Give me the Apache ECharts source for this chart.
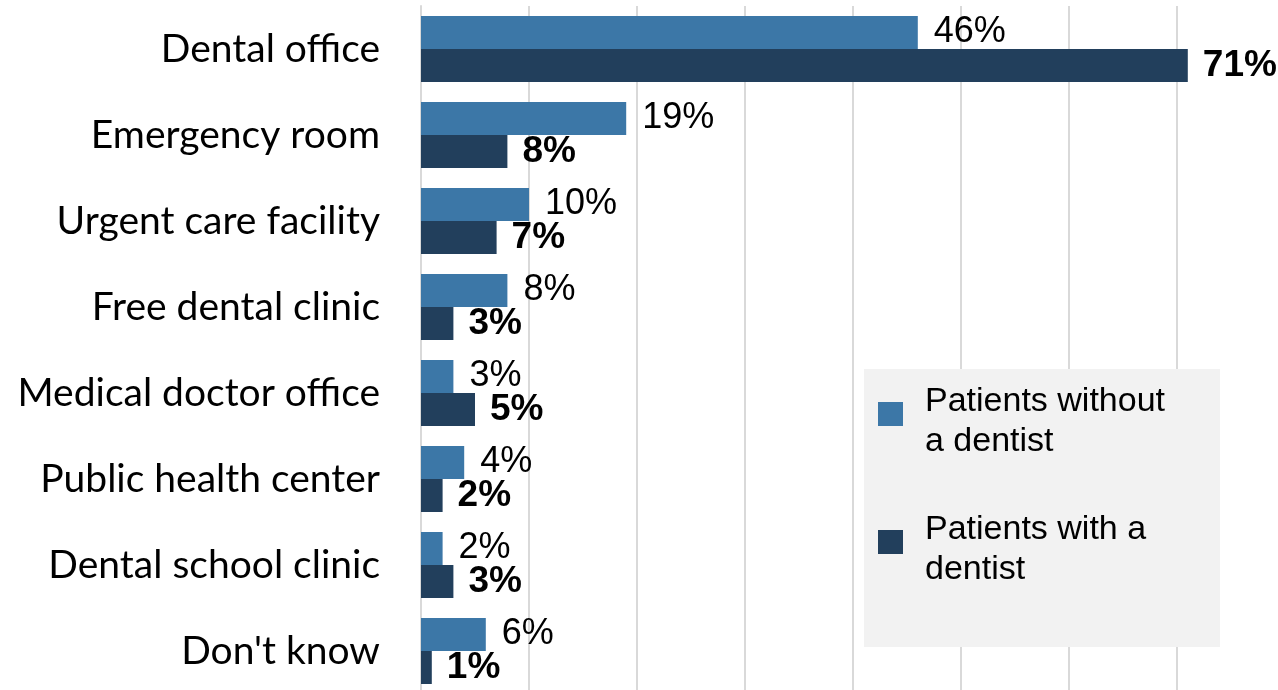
<!DOCTYPE html>
<html>
<head>
<meta charset="utf-8">
<script src="https://cdn.jsdelivr.net/npm/echarts@6/dist/echarts.min.js"></script>
<style>html,body{margin:0;padding:0;background:#fff;overflow:hidden}#c{width:1285px;height:694px}</style>
</head>
<body>
<div id="c"></div>
<script>
const categories = ["Dental office","Emergency room","Urgent care facility","Free dental clinic","Medical doctor office","Public health center","Dental school clinic","Don't know"];
const withoutDentist = [46,19,10,8,3,4,2,6];
const withDentist = [71,8,7,3,5,2,3,1];
const seriesNames = ["Patients without a dentist","Patients with a dentist"];
const legendLabels = {"Patients without a dentist":"Patients without\na dentist","Patients with a dentist":"Patients with a\ndentist"};

const chart = echarts.init(document.getElementById('c'));
chart.setOption({
  animation:false,
  grid:{left:421,right:0,top:6,bottom:0,containLabel:false},
  xAxis:{type:'value',min:0,max:80,interval:10,
    axisLabel:{show:false},axisTick:{show:false},axisLine:{show:false},
    splitLine:{show:true,lineStyle:{color:'#d9d9d9',width:2}}},
  yAxis:{type:'category',data:categories,inverse:true,
    axisTick:{show:false},axisLine:{show:true,lineStyle:{color:'#d9d9d9',width:2}},
    axisLabel:{margin:41,fontFamily:'Lato',fontSize:39,color:'#000'}},
  graphic:[{type:'rect',left:864,top:369,shape:{width:356,height:278},style:{fill:'#f2f2f2'},z:50}],
  legend:{orient:'vertical',left:878,top:382,z:60,
    padding:0,itemGap:48,
    itemWidth:25,itemHeight:40,icon:'path://M0,0L25,0L25,24L0,24ZM0,40',
    formatter:n=>legendLabels[n],
    textStyle:{fontFamily:'Liberation Sans',fontSize:34,lineHeight:40,color:'#000',padding:[0,0,0,17]},
    data:seriesNames},
  series:[
    {name:seriesNames[0],type:'bar',data:withoutDentist,barWidth:33,barGap:'0%',
     itemStyle:{color:'#3c77a7'},
     label:{show:true,position:'right',distance:16,formatter:'{c}%',fontFamily:'Liberation Sans',fontSize:36,color:'#000'}},
    {name:seriesNames[1],type:'bar',data:withDentist,barWidth:33,barGap:'0%',
     itemStyle:{color:'#223f5c'},
     label:{show:true,position:'right',distance:15,formatter:'{c}%',fontFamily:'Liberation Sans',fontSize:37,fontWeight:'bold',color:'#000'}}
  ]
});
</script>
</body>
</html>
